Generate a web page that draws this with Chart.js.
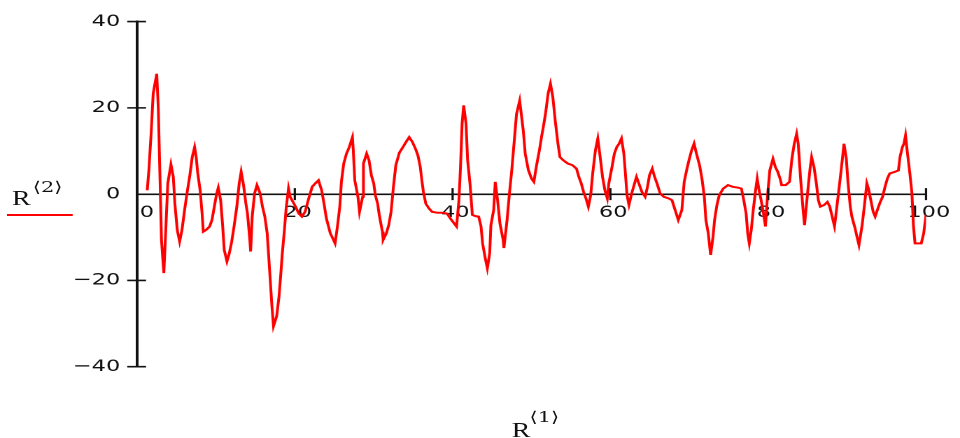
<!DOCTYPE html>
<html>
<head>
<meta charset="utf-8">
<script src="https://cdn.jsdelivr.net/npm/chart.js@4/dist/chart.umd.min.js"></script>
<style>
  html, body { margin: 0; padding: 0; background: #fff; width: 960px; height: 438px; overflow: hidden; }
  /* the plot is laid out narrow and widened horizontally, giving the broad lettering */
  #plot { position: absolute; left: 0; top: 0; width: 686px; height: 438px; transform: scaleX(1.3994); transform-origin: 0 0; }
  #plot canvas { position: absolute; left: 0; top: 0; }
  .lab { position: absolute; white-space: nowrap; line-height: 1; color: #111; }
  .r { font-family: "Liberation Serif", "DejaVu Serif", serif; font-size: 20px; }
  .sup { font-family: "DejaVu Serif", "DejaVu Sans", serif; font-size: 15px; }
  #key { position: absolute; left: 5px; top: 214px; width: 47px; height: 2px; background: #ff0000; }
</style>
</head>
<body>
<div id="plot">
  <canvas id="chart" width="686" height="438"></canvas>
  <span class="lab r" style="left:8.6px; top:188px;">R</span>
  <span class="lab sup" style="left:23.4px; top:180px;">⟨2⟩</span>
  <div id="key"></div>
  <span class="lab r" style="left:365.7px; top:420px;">R</span>
  <span class="lab sup" style="left:378.4px; top:410px;">⟨1⟩</span>
</div>
<script>
// axis ticks
const xTicks = [0, 20, 40, 60, 80, 100];
const yTicks = [-40, -20, 0, 20, 40];

// column 1 of R (abscissa)
const r1 = [
  1.3, 1.5, 1.8, 2.05, 2.5, 2.7, 2.9, 3.1, 3.4, 3.7, 3.9, 4.3, 4.6, 4.8, 5.1, 5.4, 5.7, 6.0, 6.3, 6.7,
  7.0, 7.3, 7.5, 7.7, 8.0, 8.25, 8.4, 8.75, 9.2, 9.5, 9.8, 10.1, 10.3, 10.6, 10.85, 11.05, 11.4, 11.7, 12.0, 12.3,
  12.65, 12.95, 13.2, 13.5, 13.8, 14.0, 14.3, 14.4, 14.6, 14.9, 15.2, 15.6, 15.9, 16.2, 16.5, 16.8, 17.1, 17.3, 17.7, 18.0,
  18.2, 18.4, 18.7, 18.9, 19.2, 19.4, 20.1, 20.5, 20.9, 21.3, 21.7, 22.2, 22.6, 23.0, 23.4, 23.7, 24.0, 24.5, 24.8, 25.1,
  25.4, 25.7, 25.9, 26.2, 26.55, 26.9, 27.3, 27.4, 27.6, 28.0, 28.2, 28.6, 28.7, 29.1, 29.4, 29.7, 30.0, 30.2, 30.5, 30.7,
  31.1, 31.2, 31.6, 31.9, 32.2, 32.5, 32.8, 33.25, 33.7, 34.1, 34.5, 34.9, 35.3, 35.6, 35.9, 36.1, 36.3, 36.6, 37.0, 37.4,
  38.1, 38.7, 39.3, 39.7, 40.2, 40.5, 40.8, 41.0, 41.2, 41.4, 41.7, 41.9, 42.2, 42.5, 42.9, 43.3, 43.6, 43.8, 44.1, 44.4,
  44.7, 44.85, 45.2, 45.4, 45.7, 46.0, 46.4, 46.5, 46.9, 47.2, 47.5, 47.8, 48.1, 48.5, 48.7, 48.95, 49.2, 49.6, 50.0, 50.3,
  50.6, 51.0, 51.3, 51.5, 51.8, 52.1, 52.4, 52.7, 53.0, 53.35, 53.6, 54.0, 54.6, 55.2, 55.7, 56.0, 56.3, 56.6, 56.9, 57.2,
  57.5, 57.75, 58.1, 58.4, 58.7, 59.0, 59.3, 59.6, 59.8, 60.2, 60.5, 60.8, 61.1, 61.4, 61.7, 61.9, 62.1, 62.35, 62.7, 63.0,
  63.3, 63.6, 64.0, 64.4, 64.7, 64.95, 65.3, 65.6, 65.9, 66.3, 66.75, 67.4, 67.8, 68.2, 68.6, 69.05, 69.35, 69.7, 70.0, 70.3,
  70.6, 70.9, 71.3, 71.6, 71.9, 72.1, 72.4, 72.7, 73.0, 73.2, 73.5, 73.8, 74.3, 74.9, 75.5, 76.2, 76.6, 76.9, 77.2, 77.4,
  77.6, 77.85, 78.1, 78.4, 78.6, 78.8, 79.1, 79.4, 79.65, 79.9, 80.2, 80.6, 80.9, 81.2, 81.5, 81.7, 82.2, 82.7, 83.0, 83.3,
  83.6, 83.8, 84.1, 84.4, 84.6, 85.0, 85.3, 85.5, 85.8, 86.1, 86.35, 86.6, 87.1, 87.5, 87.8, 88.1, 88.4, 88.7, 89.0, 89.4,
  89.6, 89.9, 90.1, 90.4, 90.6, 91.0, 91.25, 91.5, 91.9, 92.2, 92.5, 92.7, 93.0, 93.3, 93.55, 93.9, 94.2, 94.5, 94.8, 95.1,
  95.4, 96.1, 96.5, 96.7, 97.0, 97.2, 97.4, 97.65, 97.95, 98.2, 98.4, 98.6, 99.0, 99.4, 99.7, 100.0
];

// column 2 of R (ordinate)
const r2 = [
  0.9, 5.5, 14.4, 23.3, 27.9, 19.8, 4.8, -10.6, -18.3, -6.0, 2.5, 6.9, 4.0, -2.2, -8.3, -11.0, -8.3, -4.1, -0.2, 4.4,
  8.6, 10.9, 8.6, 4.8, 0.9, -4.5, -8.7, -8.3, -7.5, -6.0, -2.9, 0.2, 1.5, -1.4, -7.2, -12.9, -15.6, -13.7, -11.0, -7.5,
  -2.9, 2.5, 5.2, 2.1, -2.2, -4.5, -10.6, -13.3, -5.2, 0.2, 2.1, 0.2, -2.9, -5.2, -9.1, -17.5, -26.0, -30.6, -28.3, -23.7,
  -19.1, -14.1, -7.9, -3.3, 1.3, -0.6, -2.9, -4.5, -5.2, -4.1, -1.4, 1.7, 2.5, 3.2, 0.9, -2.2, -5.6, -9.1, -10.2, -11.4,
  -7.5, -2.9, 2.8, 7.1, 9.4, 10.9, 13.2, 10.5, 3.2, -0.6, -4.1, -0.6, 7.1, 9.4, 7.9, 4.4, 2.5, -0.2, -2.2, -4.8,
  -8.7, -10.6, -9.1, -7.2, -4.1, 1.7, 6.7, 9.6, 10.9, 12.1, 13.2, 12.1, 10.5, 9.0, 6.3, 3.2, 0.5, -2.2, -3.3, -4.1,
  -4.3, -4.3, -4.5, -5.6, -6.8, -7.5, -1.4, 6.3, 16.3, 20.6, 16.3, 7.9, 2.5, -4.8, -5.1, -5.2, -7.5, -11.4, -14.5, -17.2,
  -13.7, -7.2, -3.7, 2.85, -1.4, -6.8, -10.6, -12.5, -6.0, 0.2, 5.6, 12.1, 18.6, 21.7, 18.6, 14.8, 9.4, 5.6, 3.6, 2.85,
  6.3, 10.2, 13.6, 15.6, 19.0, 23.3, 25.6, 22.5, 17.1, 11.7, 8.6, 7.9, 7.1, 6.7, 5.9, 4.0, 2.5, 0.5, -1.0, -2.9,
  -0.2, 4.8, 10.2, 12.9, 8.6, 4.0, 0.9, -1.0, 2.5, 6.3, 9.4, 10.9, 11.7, 12.9, 9.4, 4.8, -0.2, -2.5, 0.2, 2.1,
  4.0, 2.5, 0.5, -0.6, 1.7, 4.4, 5.9, 4.0, 2.5, 0.2, -0.6, -1.0, -1.4, -3.7, -6.0, -3.7, 2.85, 5.9, 8.2, 10.2,
  11.7, 9.4, 6.7, 3.6, -0.6, -6.0, -9.1, -14.1, -9.9, -6.0, -2.5, -0.2, 1.3, 2.1, 1.7, 1.5, 1.3, -1.4, -4.5, -9.1,
  -11.4, -8.3, -3.7, 0.9, 3.6, 1.3, -1.4, -4.5, -7.5, -0.6, 5.5, 8.2, 6.3, 5.2, 3.6, 2.1, 2.1, 2.85, 8.2, 11.7,
  14.0, 11.7, 3.6, -3.3, -7.2, 0.5, 5.9, 8.6, 6.3, 2.5, -1.4, -2.9, -2.5, -1.8, -2.9, -5.2, -7.5, -2.9, 1.7, 8.2,
  11.7, 8.2, 2.85, -2.9, -5.2, -7.9, -9.9, -11.8, -7.2, -2.5, 2.5, 1.3, -1.4, -4.1, -5.2, -3.3, -1.8, -0.6, 1.7, 3.6,
  4.8, 5.2, 5.5, 8.6, 10.9, 11.7, 13.6, 9.4, 4.8, 0.5, -7.2, -11.4, -11.4, -11.4, -9.1, -4.8
];

const INK = '#111';
const tickFont = { family: '"DejaVu Sans", sans-serif', size: 16 };

// short cross marks through both axis lines at every labelled value
const crossTicks = {
  id: 'crossTicks',
  afterDraw(chart) {
    const { ctx, scales: { x, y } } = chart;
    const x0 = x.getPixelForValue(0);
    const y0 = y.getPixelForValue(0);
    ctx.save();
    ctx.strokeStyle = INK;
    ctx.lineWidth = 1.6;
    ctx.beginPath();
    yTicks.forEach(v => {
      if (v === 0) return;
      const py = y.getPixelForValue(v);
      ctx.moveTo(x0 - 7, py);
      ctx.lineTo(x0 + 6.5, py);
    });
    xTicks.forEach(v => {
      if (v === 0) return;
      const px = x.getPixelForValue(v);
      ctx.moveTo(px, y0 - 6);
      ctx.lineTo(px, y0 + 6);
    });
    ctx.stroke();
    ctx.restore();
  }
};

new Chart(document.getElementById('chart'), {
  type: 'scatter',
  data: {
    datasets: [{
      label: 'R⟨2⟩',
      data: r1.map((v, i) => ({ x: v, y: r2[i] })),
      showLine: true,
      borderColor: '#ff0000',
      borderWidth: 2,
      pointRadius: 0,
      pointHoverRadius: 0,
      tension: 0,
      fill: false
    }]
  },
  options: {
    responsive: false,
    animation: false,
    devicePixelRatio: 2,
    events: [],
    layout: { padding: { left: 0, right: 19.6, top: 20.7, bottom: 71.3 } },
    plugins: { legend: { display: false }, tooltip: { enabled: false } },
    scales: {
      x: {
        type: 'linear',
        position: { y: 0 },
        min: xTicks[0],
        max: xTicks[xTicks.length - 1],
        afterBuildTicks(scale) { scale.ticks = xTicks.map(v => ({ value: v })); },
        ticks: {
          autoSkip: false,
          maxRotation: 0,
          padding: 9,
          labelOffset: 2,
          color: INK,
          font: tickFont,
          callback: v => (v === 0 ? '  0' : String(v))
        },
        grid: { display: false, drawTicks: false },
        border: { display: true, color: INK, width: 1.6 }
      },
      y: {
        type: 'linear',
        position: 'left',
        min: yTicks[0],
        max: yTicks[yTicks.length - 1],
        afterBuildTicks(scale) { scale.ticks = yTicks.map(v => ({ value: v })); },
        afterFit(scale) { scale.width = 97.9; },
        ticks: {
          padding: 12,
          color: INK,
          font: tickFont,
          callback: v => (v < 0 ? '\u2212' + Math.abs(v) : String(v))
        },
        grid: { display: false, drawTicks: false },
        border: { display: true, color: INK, width: 2 }
      }
    }
  },
  plugins: [crossTicks]
});
</script>
</body>
</html>
